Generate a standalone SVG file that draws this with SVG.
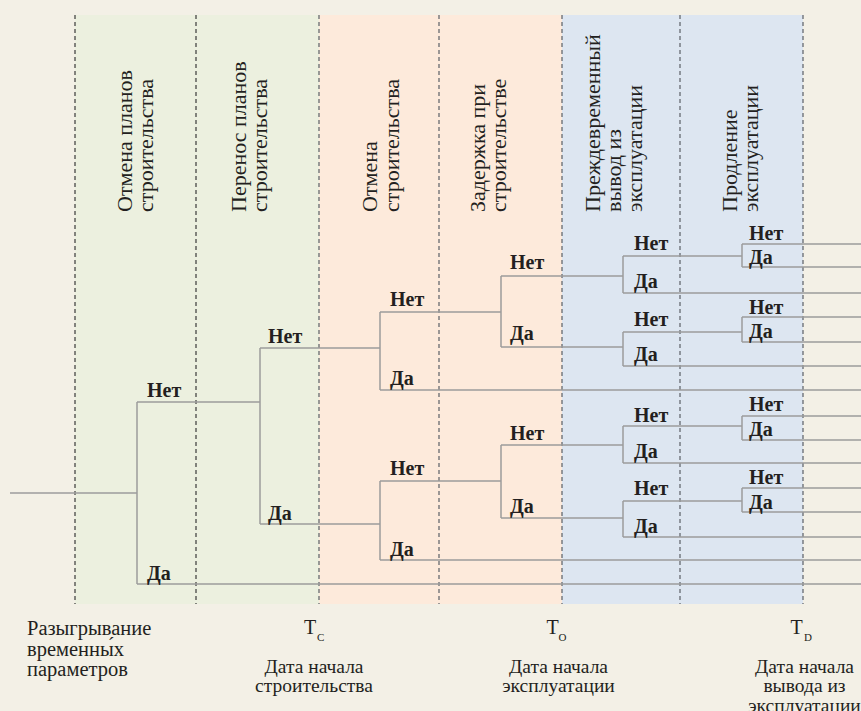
<svg xmlns="http://www.w3.org/2000/svg" width="861" height="711" viewBox="0 0 861 711">
  <style>
    .hd { font-family: "Liberation Serif", "DejaVu Serif", serif; font-size: 22px; fill: #231f20; }
    .ft { font-family: "Liberation Serif", "DejaVu Serif", serif; font-size: 20.5px; fill: #231f20; }
    .fc { font-family: "Liberation Serif", "DejaVu Serif", serif; font-size: 19.5px; fill: #231f20; text-anchor: middle; }
    .tt { font-family: "Liberation Serif", "DejaVu Serif", serif; font-size: 20px; fill: #231f20; }
    .sub { font-family: "Liberation Serif", "DejaVu Serif", serif; font-size: 11px; fill: #231f20; }
    .lb { font-family: "Liberation Serif", "DejaVu Serif", serif; font-size: 20px; font-weight: bold; fill: #231f20; }
    .sep { stroke: #3a3a3a; stroke-width: 1.2; stroke-dasharray: 4 3; fill: none; }
    .sep2 { stroke: #5b5f66; stroke-width: 1.2; stroke-dasharray: 4 3; fill: none; }
    .br { stroke: #9c9c9c; stroke-width: 1.5; fill: none; }
  </style>

  <!-- page and phase bands -->
  <rect x="0" y="0" width="861" height="711" fill="#f3f0e6"/>
  <rect x="75" y="15" width="244" height="589" fill="#ecf0df"/>
  <rect x="319" y="15" width="243" height="589" fill="#fdeadb"/>
  <rect x="562" y="15" width="241" height="589" fill="#dde6f1"/>

  <!-- phase separators -->
  <g id="separators">
    <line class="sep" x1="75" y1="15" x2="75" y2="604"/>
    <line class="sep" x1="196" y1="15" x2="196" y2="604"/>
    <line class="sep2" x1="319" y1="15" x2="319" y2="604"/>
    <line class="sep2" x1="439" y1="15" x2="439" y2="604"/>
    <line class="sep2" x1="562" y1="15" x2="562" y2="604"/>
    <line class="sep2" x1="680" y1="15" x2="680" y2="604"/>
    <line class="sep2" x1="803" y1="15" x2="803" y2="604"/>
  </g>

  <!-- column headers (vertical, read bottom to top) -->
  <g id="header-cancel-plans">
    <text class="hd" transform="translate(132,212) rotate(-90)"><tspan x="0" y="0">Отмена планов</tspan><tspan x="0" y="21">строительства</tspan></text>
  </g>
  <g id="header-postpone-plans">
    <text class="hd" transform="translate(246,212) rotate(-90)"><tspan x="0" y="0">Перенос планов</tspan><tspan x="0" y="21">строительства</tspan></text>
  </g>
  <g id="header-cancel-construction">
    <text class="hd" transform="translate(377,212) rotate(-90)"><tspan x="0" y="0">Отмена</tspan><tspan x="0" y="22">строительства</tspan></text>
  </g>
  <g id="header-delay">
    <text class="hd" transform="translate(485,212) rotate(-90)"><tspan x="0" y="0">Задержка при</tspan><tspan x="0" y="21">строительстве</tspan></text>
  </g>
  <g id="header-early-retirement">
    <text class="hd" transform="translate(600,212) rotate(-90)"><tspan x="0" y="0">Преждевременный</tspan><tspan x="0" y="21">вывод из</tspan><tspan x="0" y="42">эксплуатации</tspan></text>
  </g>
  <g id="header-extension">
    <text class="hd" transform="translate(737,212) rotate(-90)"><tspan x="0" y="0">Продление</tspan><tspan x="0" y="21">эксплуатации</tspan></text>
  </g>

  <!-- tree branches -->
  <g id="connectors">
    <path class="br" d="M10,493 H137"/>
    <path class="br" d="M137,402 V584 M137,402 H260 M137,584 H861"/>
    <path class="br" d="M260,348 V524 M260,348 H380 M260,524 H380"/>
    <path class="br" d="M380,312 V390 M380,312 H501 M380,390 H861"/>
    <path class="br" d="M380,481 V560 M380,481 H501 M380,560 H861"/>
    <path class="br" d="M501,276 V347 M501,276 H623 M501,347 H623"/>
    <path class="br" d="M501,445 V518 M501,445 H623 M501,518 H623"/>
    <path class="br" d="M623,256 V293 M623,256 H742 M623,293 H861"/>
    <path class="br" d="M623,332 V366 M623,332 H742 M623,366 H861"/>
    <path class="br" d="M623,426 V463 M623,426 H742 M623,463 H861"/>
    <path class="br" d="M623,501 V537 M623,501 H742 M623,537 H861"/>
    <path class="br" d="M742,244 V267 M742,244 H861 M742,267 H861"/>
    <path class="br" d="M742,317 V342 M742,317 H861 M742,342 H861"/>
    <path class="br" d="M742,416 V440 M742,416 H861 M742,440 H861"/>
    <path class="br" d="M742,488 V512 M742,488 H861 M742,512 H861"/>
  </g>

  <!-- decision nodes -->
  <g id="node-1">
    <text class="lb" x="147" y="397">Нет</text>
    <text class="lb" x="147" y="580">Да</text>
  </g>
  <g id="node-2">
    <text class="lb" x="268" y="343">Нет</text>
    <text class="lb" x="268" y="520">Да</text>
  </g>
  <g id="node-3a">
    <text class="lb" x="390" y="306">Нет</text>
    <text class="lb" x="390" y="385">Да</text>
  </g>
  <g id="node-3b">
    <text class="lb" x="390" y="475">Нет</text>
    <text class="lb" x="390" y="556">Да</text>
  </g>
  <g id="node-4a">
    <text class="lb" x="510" y="269">Нет</text>
    <text class="lb" x="510" y="340">Да</text>
  </g>
  <g id="node-4b">
    <text class="lb" x="510" y="440">Нет</text>
    <text class="lb" x="510" y="513">Да</text>
  </g>
  <g id="node-5a">
    <text class="lb" x="634" y="250">Нет</text>
    <text class="lb" x="634" y="288">Да</text>
  </g>
  <g id="node-5b">
    <text class="lb" x="634" y="326">Нет</text>
    <text class="lb" x="634" y="361">Да</text>
  </g>
  <g id="node-5c">
    <text class="lb" x="634" y="422">Нет</text>
    <text class="lb" x="634" y="458">Да</text>
  </g>
  <g id="node-5d">
    <text class="lb" x="634" y="495">Нет</text>
    <text class="lb" x="634" y="533">Да</text>
  </g>
  <g id="node-6a">
    <text class="lb" x="749" y="240">Нет</text>
    <text class="lb" x="749" y="264">Да</text>
  </g>
  <g id="node-6b">
    <text class="lb" x="749" y="314">Нет</text>
    <text class="lb" x="749" y="338">Да</text>
  </g>
  <g id="node-6c">
    <text class="lb" x="749" y="411">Нет</text>
    <text class="lb" x="749" y="436">Да</text>
  </g>
  <g id="node-6d">
    <text class="lb" x="749" y="484">Нет</text>
    <text class="lb" x="749" y="509">Да</text>
  </g>

  <!-- timeline captions -->
  <g id="caption-sampling">
    <text class="ft"><tspan x="27" y="635">Разыгрывание</tspan><tspan x="27" y="655.5">временны́х</tspan><tspan x="27" y="676">параметров</tspan></text>
  </g>
  <g id="caption-tc">
    <text class="tt" x="304" y="634">T</text>
    <text class="sub" x="317" y="641">C</text>
    <text class="fc"><tspan x="314" y="672.5">Дата начала</tspan><tspan x="314" y="692">строительства</tspan></text>
  </g>
  <g id="caption-to">
    <text class="tt" x="546.5" y="634">T</text>
    <text class="sub" x="558.5" y="641">O</text>
    <text class="fc"><tspan x="558.5" y="672.5">Дата начала</tspan><tspan x="558.5" y="692">эксплуатации</tspan></text>
  </g>
  <g id="caption-td">
    <text class="tt" x="790.5" y="634">T</text>
    <text class="sub" x="804" y="641">D</text>
    <text class="fc"><tspan x="804.5" y="672.5">Дата начала</tspan><tspan x="804.5" y="692">вывода из</tspan><tspan x="804.5" y="711.5">эксплуатации</tspan></text>
  </g>
</svg>
